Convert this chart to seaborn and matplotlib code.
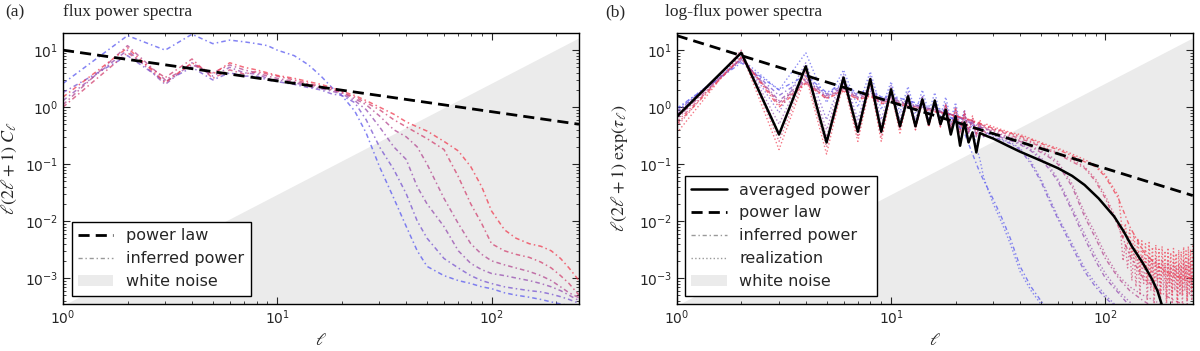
import numpy as np
import matplotlib
matplotlib.use('Agg')
import matplotlib.pyplot as plt
import seaborn as sns
from matplotlib.lines import Line2D
from matplotlib.patches import Patch
from matplotlib.colors import to_rgb

# ---------------- data ----------------
# (a) flux power spectra
ell_a = [1, 2, 3, 4, 5, 6, 7, 8, 9, 10, 12, 14, 16, 18,
         20, 23, 26, 30, 35, 40, 45, 50, 60, 70, 80, 90, 100, 115, 130, 150, 170, 190, 210, 230, 256]
flux_0 = [2.6, 18, 10, 19, 13, 15, 14, 13, 12, 10, 8, 5.5, 3.5, 2.2,
          1.6, 0.85, 0.35, 0.09, 0.025, 0.008, 0.003, 0.0016, 0.0011, 9e-4, 8e-4, 7e-4, 6.5e-4, 5.5e-4, 5e-4, 4.6e-4, 4.2e-4, 3.8e-4, 3.5e-4, 3.3e-4, 3e-4]
flux_1 = [1.8, 8, 2.8, 5, 3, 4, 3.5, 3.5, 3, 2.8, 2.5, 2.2, 2, 1.7,
          1.6, 1.2, 0.6, 0.2, 0.08, 0.03, 0.01, 0.005, 0.0022, 1.5e-3, 1.1e-3, 9e-4, 8e-4, 7e-4, 6.5e-4, 6e-4, 5.7e-4, 5.2e-4, 4.7e-4, 4.2e-4, 3.6e-4]
flux_2 = [1.3, 10, 2.5, 6, 3.5, 5, 4, 3.8, 3.2, 3, 2.7, 2.3, 2.1, 1.9,
          1.7, 1.3, 0.9, 0.45, 0.2, 0.12, 0.04, 0.02, 0.008, 3e-3, 1.8e-3, 1.4e-3, 1.2e-3, 1.1e-3, 1.0e-3, 9e-4, 8e-4, 7e-4, 6e-4, 5e-4, 4e-4]
flux_3 = [1.1, 12, 3, 5.5, 4, 5.5, 4.5, 4, 3.5, 3.2, 2.8, 2.5, 2.2, 2.0,
          1.8, 1.4, 1.1, 0.7, 0.4, 0.3, 0.2, 0.1, 0.025, 0.009, 4e-3, 2.6e-3, 2.0e-3, 1.7e-3, 1.5e-3, 1.3e-3, 1.1e-3, 9e-4, 7e-4, 5.5e-4, 4.5e-4]
flux_4 = [1.0, 9, 3.3, 7, 3.2, 4.5, 3.8, 4.2, 3.8, 3.5, 3, 2.6, 2.3, 2.1,
          1.8, 1.5, 1.2, 0.9, 0.6, 0.45, 0.35, 0.28, 0.18, 0.06, 0.02, 0.009, 4e-3, 3e-3, 2.6e-3, 2.3e-3, 1.9e-3, 1.5e-3, 1.1e-3, 8e-4, 5e-4]
flux_5 = [1.5, 11, 2.7, 6, 3.8, 6, 5, 4.5, 4, 3.6, 3.2, 2.8, 2.5, 2.2,
          1.9, 1.6, 1.3, 1.0, 0.75, 0.55, 0.45, 0.38, 0.25, 0.17, 0.09, 0.04, 0.015, 7e-3, 5e-3, 4e-3, 3.6e-3, 3e-3, 2.2e-3, 1.5e-3, 9e-4]
flux_inferred = [flux_0, flux_1, flux_2, flux_3, flux_4, flux_5]

law_ell = [1, 256]
law_a = [10, 0.5]
law_b = [18, 0.028]

noise_ell = [1, 256]
noise_lvl = [3.2e-4, 16]

# (b) log-flux power spectra
ell_avg = [1, 2, 3, 4, 5, 6, 7, 8, 9, 10, 11, 12, 13, 14, 15, 16, 17, 18, 19, 20, 21, 22, 23, 24, 25, 26,
           28, 30, 35, 40, 50, 60, 70, 80, 93, 110, 122, 133, 150, 164, 175, 183, 200]
avg_power = [0.68, 9.0, 0.33, 5.2, 0.24, 3.3, 0.37, 3.1, 0.37, 2.05, 0.46, 1.55, 0.46, 1.37, 0.5, 1.3, 0.5, 0.9,
             0.33, 0.69, 0.21, 0.54, 0.24, 0.36, 0.16, 0.35,
             0.31, 0.28, 0.21, 0.165, 0.115, 0.085, 0.062, 0.043, 0.025, 0.012, 6.5e-3, 3.6e-3, 1.8e-3, 1.0e-3, 6e-4, 3.5e-4, 1.3e-4]

ell_b = [1, 2, 3, 4, 5, 6, 7, 8, 9, 10, 12, 14, 16, 18, 20, 22, 24, 26, 28,
         30, 33, 36, 40, 45, 50, 55, 60, 70, 80, 90, 100, 115, 130, 150, 170, 190, 210, 230, 256]
logf_0 = [0.95, 6, 2.0, 3.6, 1.8, 2.6, 1.7, 2.1, 1.5, 1.6, 1.3, 1.1, 1.0, 0.85, 0.55, 0.35, 0.15, 0.07, 0.04,
          0.024, 0.011, 0.005, 0.0016, 7e-4, 4e-4, 2.5e-4, 1.6e-4, 8e-5, 5e-5, 4e-5, 3e-5, 3e-5, 3e-5, 3e-5, 3e-5, 3e-5, 3e-5, 3e-5, 3e-5]
logf_1 = [0.85, 6.5, 1.6, 3.2, 1.7, 2.4, 1.6, 1.9, 1.4, 1.5, 1.2, 1.0, 0.9, 0.8, 0.7, 0.6, 0.5, 0.42, 0.36,
          0.3, 0.26, 0.23, 0.18, 0.1, 0.05, 0.022, 0.011, 3.5e-3, 1.3e-3, 7e-4, 4.5e-4, 2.8e-4, 1.8e-4, 1.2e-4, 9e-5, 7e-5, 6e-5, 5e-5, 4e-5]
logf_2 = [0.75, 7, 1.3, 3.0, 1.6, 2.2, 1.5, 1.8, 1.3, 1.4, 1.15, 1.0, 0.9, 0.8, 0.7, 0.6, 0.52, 0.45, 0.4,
          0.33, 0.29, 0.26, 0.22, 0.17, 0.12, 0.08, 0.05, 0.015, 5e-3, 2e-3, 1e-3, 5.5e-4, 3.2e-4, 2e-4, 1.4e-4, 1e-4, 8e-5, 6e-5, 5e-5]
logf_3 = [0.65, 7, 1.2, 2.8, 1.5, 2.1, 1.45, 1.7, 1.25, 1.35, 1.1, 0.95, 0.85, 0.78, 0.7, 0.62, 0.55, 0.48, 0.42,
          0.36, 0.32, 0.28, 0.25, 0.2, 0.16, 0.13, 0.1, 0.04, 0.012, 5e-3, 2.2e-3, 1e-3, 6e-4, 4e-4, 3e-4, 2.2e-4, 1.6e-4, 1.2e-4, 1e-4]
logf_4 = [0.55, 7.5, 1.1, 2.7, 1.45, 2.0, 1.4, 1.6, 1.2, 1.3, 1.05, 0.95, 0.85, 0.78, 0.7, 0.63, 0.57, 0.5, 0.45,
          0.4, 0.36, 0.32, 0.28, 0.24, 0.2, 0.17, 0.15, 0.11, 0.085, 0.05, 0.025, 0.008, 2.5e-3, 1e-3, 7e-4, 5e-4, 4e-4, 3.5e-4, 3e-4]
logf_5 = [0.5, 7.5, 1.0, 2.6, 1.4, 1.9, 1.35, 1.55, 1.15, 1.25, 1.0, 0.9, 0.82, 0.76, 0.7, 0.64, 0.58, 0.52, 0.47,
          0.42, 0.38, 0.35, 0.31, 0.27, 0.23, 0.2, 0.18, 0.14, 0.11, 0.09, 0.06, 0.025, 8e-3, 3e-3, 1.8e-3, 1.3e-3, 1.1e-3, 1e-3, 1e-3]
logf_inferred = [logf_0, logf_1, logf_2, logf_3, logf_4, logf_5]

# realizations: integer ell 1..28, then smooth tail, then noisy tail for the red ones
ell_real_lo = list(range(1, 29))
ell_real_hi = [30, 33, 36, 40, 45, 50, 55, 60, 70, 80, 90, 100, 115, 130, 150, 170, 190, 210, 230, 256]
ell_real_noise = list(range(118, 257, 3))
real_0 = [0.9, 7, 2.0, 9, 1.2, 4.5, 1.0, 4.2, 0.9, 2.8, 0.8, 2.3, 0.8, 2.0, 0.8, 1.8, 0.7, 1.5, 0.6, 1.2,
          0.5, 0.9, 0.35, 0.5, 0.2, 0.12, 0.06, 0.04]
real_1 = [0.8, 8, 0.8, 6, 0.6, 3.8, 0.6, 3.5, 0.6, 2.4, 0.6, 1.9, 0.6, 1.6, 0.6, 1.4, 0.55, 1.2, 0.5, 1.0,
          0.45, 0.8, 0.4, 0.6, 0.35, 0.45, 0.3, 0.35]
real_2 = [0.7, 9, 0.5, 5, 0.4, 3.5, 0.45, 3.2, 0.45, 2.2, 0.5, 1.7, 0.5, 1.5, 0.5, 1.3, 0.5, 1.1, 0.45, 0.9,
          0.4, 0.75, 0.35, 0.6, 0.3, 0.45, 0.3, 0.35]
real_3 = [0.6, 9.5, 0.35, 4.5, 0.3, 3.2, 0.4, 3.0, 0.4, 2.0, 0.45, 1.6, 0.45, 1.4, 0.5, 1.3, 0.45, 1.1, 0.4, 0.9,
          0.35, 0.75, 0.35, 0.6, 0.3, 0.5, 0.3, 0.4]
real_4 = [0.45, 10, 0.25, 4.0, 0.2, 3.0, 0.3, 2.8, 0.3, 1.9, 0.4, 1.5, 0.4, 1.3, 0.45, 1.2, 0.45, 1.1, 0.4, 0.9,
          0.35, 0.8, 0.35, 0.65, 0.32, 0.55, 0.3, 0.45]
real_5 = [0.35, 9, 0.18, 3.5, 0.15, 2.8, 0.25, 2.6, 0.25, 1.8, 0.35, 1.5, 0.4, 1.3, 0.45, 1.2, 0.45, 1.1, 0.4, 1.0,
          0.4, 0.85, 0.4, 0.7, 0.35, 0.6, 0.35, 0.5]
real_tail_0 = [0.02, 0.009, 0.004, 0.0013, 6e-4, 3.5e-4, 2.2e-4, 1.5e-4, 8e-5, 5e-5, 4e-5, 3e-5, 3e-5, 3e-5, 3e-5, 3e-5, 3e-5, 3e-5, 3e-5, 3e-5]
real_tail_1 = [0.32, 0.27, 0.24, 0.19, 0.11, 0.055, 0.025, 0.012, 4e-3, 1.5e-3, 8e-4, 5e-4, 3e-4, 2e-4, 1.3e-4, 1e-4, 8e-5, 6e-5, 5e-5, 4e-5]
real_tail_2 = [0.34, 0.3, 0.27, 0.23, 0.18, 0.13, 0.09, 0.055, 0.017, 6e-3, 2.4e-3, 1.2e-3, 6e-4, 3.8e-4, 2.4e-4, 1.6e-4, 1.2e-4, 9e-5, 7e-5, 5e-5]
real_tail_3 = [0.38, 0.33, 0.3, 0.26, 0.21, 0.17, 0.14, 0.11, 0.045, 0.014, 6e-3, 2.6e-3, 1.1e-3, 7e-4, 5e-4, 4e-4, 3e-4, 2e-4, 1.5e-4, 1.2e-4]
real_tail_4 = [0.42, 0.38, 0.34, 0.3, 0.25, 0.21, 0.18, 0.16, 0.12, 0.09, 0.055, 0.028, 9e-3]
real_tail_5 = [0.45, 0.4, 0.36, 0.33, 0.28, 0.24, 0.21, 0.19, 0.15, 0.12, 0.095, 0.065, 0.028]
real_noise_4 = [0.006, 0.002, 0.004, 0.0015, 0.0035, 9e-4, 0.003, 7e-4, 0.0028, 5e-4, 0.0025, 8e-4, 0.0022, 4e-4,
                0.0024, 6e-4, 2e-3, 3.5e-4, 2.2e-3, 7e-4, 1.8e-3, 4e-4, 2.1e-3, 6e-4, 1.7e-3, 3e-4, 2e-3, 5e-4,
                1.6e-3, 3.5e-4, 1.9e-3, 6e-4, 1.5e-3, 3e-4, 1.8e-3, 5e-4, 1.6e-3, 3.5e-4, 2e-3, 6e-4, 1.7e-3,
                3e-4, 2.1e-3, 5e-4, 1.8e-3, 4e-4, 2.4e-3]
real_noise_5 = [0.012, 0.005, 0.009, 0.004, 0.007, 0.0025, 0.006, 0.002, 0.005, 0.0012, 0.0045, 0.0015, 0.004, 8e-4,
                0.0042, 1.2e-3, 3.5e-3, 6e-4, 3.8e-3, 9e-4, 3.2e-3, 5e-4, 3.6e-3, 1.1e-3, 3e-3, 4e-4, 3.4e-3, 8e-4,
                2.8e-3, 5e-4, 3.3e-3, 1e-3, 2.7e-3, 4e-4, 3.1e-3, 7e-4, 2.9e-3, 5e-4, 3.5e-3, 9e-4, 3e-3, 4e-4,
                3.6e-3, 8e-4, 3.2e-3, 6e-4, 4e-3]

# ---------------- style ----------------
sns.set_style('ticks')
plt.rcParams.update({
    'font.family': ['DejaVu Sans'],
    'mathtext.fontset': 'stix',
    'axes.unicode_minus': False,
    'axes.linewidth': 1.0,
    'axes.edgecolor': 'black',
})

blue = np.array(to_rgb('#5a5af0'))
red = np.array(to_rgb('#f03c50'))
colors = [tuple(blue + (red - blue) * t) for t in np.linspace(0, 1, 6)]
wn_color = '0.92'
dash = (0, (4, 2.2))
dashdot = (0, (3, 2, 1, 2))

fig = plt.figure(figsize=(12, 3.51), dpi=100)
ax_a = fig.add_axes([0.0525, 0.134, 0.43, 0.772])
ax_b = fig.add_axes([0.564, 0.134, 0.43, 0.772])


def line(ax, x, y, **kw):
    sns.lineplot(x=x, y=y, ax=ax, estimator=None, sort=False, **kw)


# panel (a)
ax_a.fill_between(noise_ell, 1e-6, noise_lvl, color=wn_color, lw=0, zorder=0)
for vals, c in zip(flux_inferred, colors):
    line(ax_a, ell_a, vals, color=c, linestyle=dashdot, linewidth=1.1, alpha=0.75)
line(ax_a, law_ell, law_a, color='black', linestyle=dash, linewidth=2)

# panel (b)
ax_b.fill_between(noise_ell, 1e-6, noise_lvl, color=wn_color, lw=0, zorder=0)
real_lo = [real_0, real_1, real_2, real_3, real_4, real_5]
real_hi = [real_tail_0, real_tail_1, real_tail_2, real_tail_3]
for i, c in enumerate(colors):
    if i < 4:
        x = ell_real_lo + ell_real_hi
        y = real_lo[i] + real_hi[i]
    else:
        tail = real_tail_4 if i == 4 else real_tail_5
        noise = real_noise_4 if i == 4 else real_noise_5
        x = ell_real_lo + ell_real_hi[:len(tail)] + ell_real_noise
        y = real_lo[i] + tail + noise
    line(ax_b, x, y, color=c, linestyle=':', linewidth=1.0, alpha=0.7)
for vals, c in zip(logf_inferred, colors):
    line(ax_b, ell_b, vals, color=c, linestyle=dashdot, linewidth=1.0, alpha=0.75)
line(ax_b, ell_avg, avg_power, color='black', linewidth=1.8)
line(ax_b, law_ell, law_b, color='black', linestyle=dash, linewidth=2)

for ax in (ax_a, ax_b):
    ax.set_xscale('log')
    ax.set_yscale('log')
    ax.set_xlim(1, 256)
    ax.set_ylim(3.5e-4, 20)
    ax.tick_params(which='both', direction='in', top=True, right=True, labelsize=10)
    ax.tick_params(which='major', length=5, width=0.8)
    ax.tick_params(which='minor', length=2.5, width=0.6)
    ax.set_xlabel(r'$\ell$', fontsize=12.5)
    ax.xaxis.set_label_coords(0.5, -0.1)

ax_a.set_ylabel(r'$\ell(2\ell+1)\ C_\ell$', fontsize=13)
ax_a.yaxis.set_label_coords(-0.085, 0.5)
ax_b.set_ylabel(r'$\ell(2\ell+1)\ \exp(\tau_\ell)$', fontsize=13)
ax_b.yaxis.set_label_coords(-0.09, 0.5)

h_law = Line2D([], [], color='black', linestyle=dash, linewidth=2)
h_inf = Line2D([], [], color='0.6', linestyle=dashdot, linewidth=1)
h_real = Line2D([], [], color='0.6', linestyle=':', linewidth=1)
h_avg = Line2D([], [], color='black', linewidth=1.8)
h_wn = Patch(facecolor=wn_color, edgecolor='none')

leg_kw = dict(loc='lower left', fontsize=11.5, frameon=True, fancybox=False, framealpha=1,
              edgecolor='black', borderaxespad=0, handlelength=2.2)
leg = ax_a.legend([h_law, h_inf, h_wn], ['power law', 'inferred power', 'white noise'],
                  bbox_to_anchor=(0.017, 0.03), **leg_kw)
leg.get_frame().set_linewidth(1.0)
leg = ax_b.legend([h_avg, h_law, h_inf, h_real, h_wn],
                  ['averaged power', 'power law', 'inferred power', 'realization', 'white noise'],
                  bbox_to_anchor=(0.016, 0.03), **leg_kw)
leg.get_frame().set_linewidth(1.0)

serif = ['Liberation Serif', 'DejaVu Serif']
fig.text(0.004, 0.965, '(a)', family=serif, fontsize=12.5, va='center')
fig.text(0.0525, 0.965, 'flux power spectra', family=serif, fontsize=12.5, va='center')
fig.text(0.504, 0.965, '(b)', family=serif, fontsize=12.5, va='center')
fig.text(0.554, 0.965, 'log-flux power spectra', family=serif, fontsize=12.5, va='center')

fig.savefig('out.png', dpi=100)
